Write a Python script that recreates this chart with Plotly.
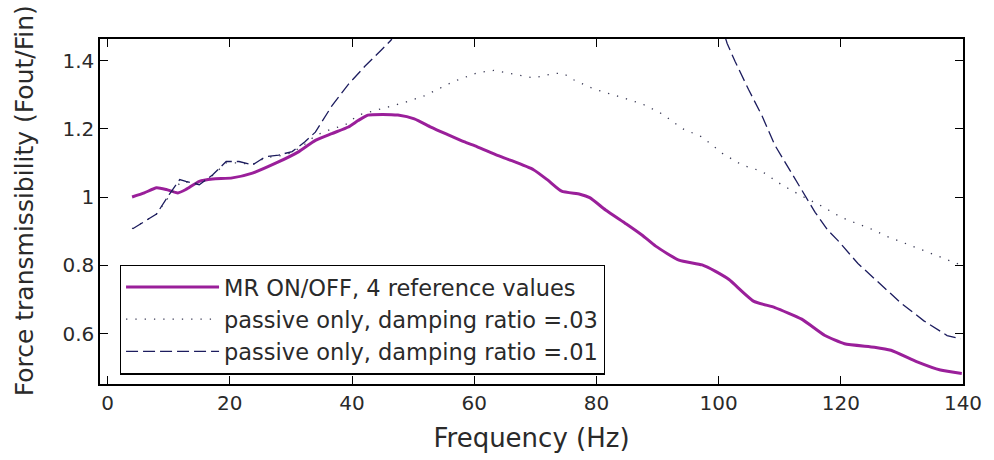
import plotly.graph_objects as go

# MR ON/OFF, 4 reference values
mr_freq = [4.0, 6.0, 8.0, 9.6, 11.5, 12.8, 15.0, 17.2, 20.4, 23.7, 27.5, 31.3, 34.0, 36.7,
           39.4, 41.0, 42.6, 45.0, 47.5, 50.2, 52.9, 55.5, 58.3, 60.5, 63.8, 65.9, 69.7,
           72.0, 74.3, 77.3, 78.9, 81.5, 84.9, 87.5, 89.7, 93.5, 97.3, 99.5, 101.7, 105.7,
           109.2, 113.6, 117.4, 120.6, 125.5, 128.2, 132.5, 136.3, 139.8]
mr_trans = [1.000, 1.012, 1.027, 1.022, 1.012, 1.022, 1.046, 1.053, 1.056, 1.070, 1.099,
            1.133, 1.166, 1.186, 1.205, 1.224, 1.240, 1.242, 1.240, 1.229, 1.205, 1.184,
            1.162, 1.147, 1.122, 1.108, 1.080, 1.050, 1.017, 1.008, 0.998, 0.962, 0.921,
            0.888, 0.856, 0.815, 0.801, 0.782, 0.758, 0.695, 0.676, 0.642, 0.594, 0.570,
            0.560, 0.551, 0.517, 0.493, 0.483]

# passive only, damping ratio = .03
p03_freq = [4.0, 8.0, 10.0, 12.0, 15.0, 17.0, 19.4, 21.5, 23.7, 25.8, 28.0, 30.2, 32.3,
            34.0, 36.7, 38.8, 41.0, 43.7, 48.6, 51.8, 56.7, 60.5, 63.2, 65.9, 69.7, 73.0,
            74.6, 76.2, 79.5, 84.3, 87.6, 90.8, 94.1, 97.3, 100.6, 103.8, 107.1, 110.3,
            113.6, 116.8, 120.1, 125.0, 127.5, 132.0, 136.3, 139.6]
p03_trans = [0.907, 0.950, 1.000, 1.045, 1.040, 1.060, 1.100, 1.100, 1.095, 1.115, 1.120,
             1.130, 1.155, 1.180, 1.200, 1.210, 1.240, 1.253, 1.277, 1.296, 1.339, 1.364,
             1.371, 1.362, 1.349, 1.362, 1.362, 1.344, 1.317, 1.291, 1.272, 1.243, 1.200,
             1.176, 1.128, 1.094, 1.075, 1.036, 1.003, 0.974, 0.940, 0.906, 0.885, 0.854,
             0.825, 0.801]

# passive only, damping ratio = .01 (peak goes off the top of the axes)
p01_freq = [4.1, 8.0, 10.1, 11.8, 12.8, 15.0, 17.2, 19.4, 21.5, 23.7, 25.8, 28.0, 30.2,
            32.3, 34.0, 36.7, 39.4, 42.1, 44.8, 46.4, 47.5, 100.5, 101.4, 102.7, 104.9,
            107.1, 109.2, 111.4, 113.6, 115.8, 117.9, 119.5, 122.8, 126.6, 129.8, 133.6,
            137.4, 139.6]
p01_trans = [0.907, 0.950, 1.008, 1.051, 1.046, 1.036, 1.065, 1.104, 1.104, 1.094, 1.118,
             1.123, 1.133, 1.162, 1.190, 1.267, 1.330, 1.383, 1.431, 1.460, 1.500, 1.500,
             1.450, 1.397, 1.315, 1.238, 1.152, 1.085, 1.022, 0.955, 0.902, 0.873, 0.805,
             0.743, 0.690, 0.637, 0.594, 0.584]

x_ticks = [0, 20, 40, 60, 80, 100, 120, 140]
y_ticks = [0.6, 0.8, 1.0, 1.2, 1.4]
y_tick_labels = ["0.6", "0.8", "1", "1.2", "1.4"]

FONT = "DejaVu Sans"
TXT = "#2a2a2a"

fig = go.Figure()
fig.add_trace(go.Scatter(
    x=mr_freq, y=mr_trans, mode="lines", name="MR ON/OFF, 4 reference values",
    line=dict(color="#9a1f9a", width=3, shape="spline", smoothing=0.5), legendgroup="a"))
fig.add_trace(go.Scatter(
    x=p03_freq, y=p03_trans, mode="lines", name="passive only, damping ratio =.03",
    line=dict(color="#3a3a55", width=1.3, dash="1.3px,8px"), legendgroup="b"))
fig.add_trace(go.Scatter(
    x=p01_freq, y=p01_trans, mode="lines", name="passive only, damping ratio =.01",
    line=dict(color="#1c1c5e", width=1.3, dash="12px,5px"), legendgroup="c"))

axis_common = dict(
    showline=True, linecolor="black", linewidth=1.5, mirror="ticks",
    ticks="inside", ticklen=8, tickwidth=1.3, tickcolor="black",
    showgrid=False, zeroline=False,
    tickfont=dict(family=FONT, size=20, color=TXT),
)

fig.update_xaxes(
    range=[-1.25, 140], tickvals=x_ticks,
    title=dict(text="Frequency (Hz)", font=dict(family=FONT, size=26, color=TXT), standoff=15),
    **axis_common)
fig.update_yaxes(
    range=[0.452, 1.463], tickvals=y_ticks, ticktext=y_tick_labels,
    **axis_common)

fig.add_annotation(
    text="Force transmissibility (Fout/Fin)", textangle=-90,
    xref="paper", yref="paper", x=-0.0875, y=0.531, xanchor="center", yanchor="middle",
    showarrow=False, font=dict(family=FONT, size=25, color=TXT))

fig.update_layout(
    width=994, height=460,
    margin=dict(l=100, r=25, t=39, b=71),
    paper_bgcolor="white", plot_bgcolor="white",
    showlegend=True,
    legend=dict(
        x=0.023, y=0.346, xanchor="left", yanchor="top",
        bgcolor="white", bordercolor="black", borderwidth=1.2,
        font=dict(family=FONT, size=22.5, color=TXT),
        itemwidth=93, tracegroupgap=4, traceorder="normal",
    ),
)

fig.write_html("out.html")
